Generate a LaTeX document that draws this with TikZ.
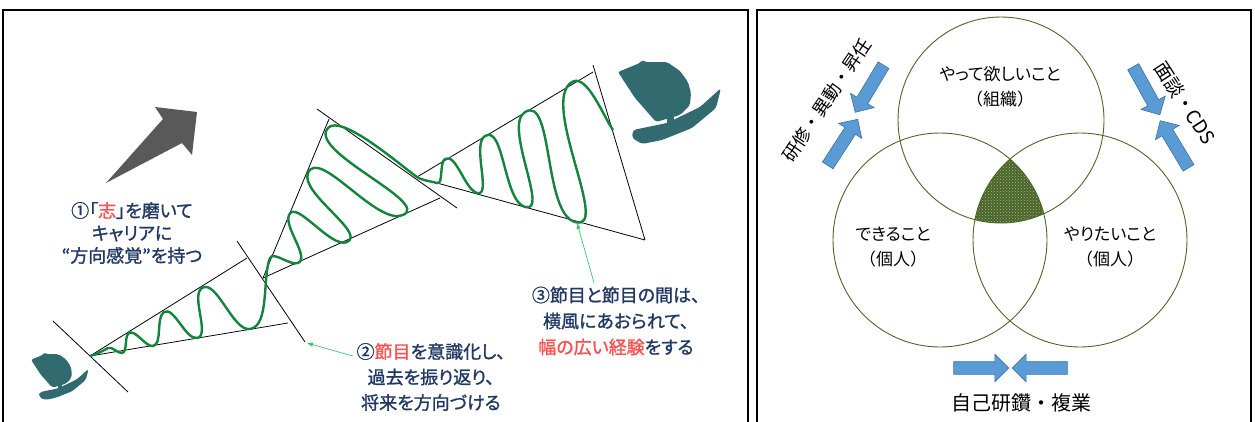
\documentclass[tikz,border=0pt]{standalone}
\usepackage{fontspec}
\newfontfamily\cjk[RawFeature=+palt]{Noto Sans CJK JP}
\newfontfamily\cjkheavy[RawFeature=+palt,FakeBold=1.2]{Noto Sans CJK JP}
\newfontfamily\cjkfw{Noto Sans CJK JP}
\usetikzlibrary{arrows.meta,shapes.arrows,patterns}
\definecolor{navy}{RGB}{32,56,100}
\definecolor{accent}{RGB}{255,80,80}
\definecolor{wavegreen}{RGB}{18,132,60}
\definecolor{pointgreen}{RGB}{60,200,110}
\definecolor{boatteal}{RGB}{49,107,112}
\definecolor{pushgray}{RGB}{89,89,89}
\definecolor{vennline}{RGB}{80,100,40}
\definecolor{coregreen}{RGB}{72,100,40}
\definecolor{coredot}{RGB}{170,190,140}
\definecolor{arrowblue}{RGB}{91,155,213}
\definecolor{arrowedge}{RGB}{65,113,156}
\begin{document}
\begin{tikzpicture}[x=1pt,y=1pt,
    frame/.style={line width=2pt},
    guide/.style={line width=0.8pt},
    wave/.style={draw=wavegreen,line width=2.4pt,looseness=0.7},
    pointer/.style={draw=pointgreen,line width=0.7pt,-{Triangle[length=6pt,width=4pt]}},
    note/.style={align=center,text=navy,font=\cjkheavy\fontsize{18}{25.5}\selectfont},
    vennlbl/.style={align=center,font=\cjk\fontsize{17}{25}\selectfont},
    sidelbl/.style={font=\cjkfw\fontsize{18}{22}\selectfont},
    blockarrow/.style={single arrow,draw=arrowedge,fill=arrowblue,line width=0.6pt,
      minimum height=55pt,inner xsep=0pt,inner ysep=6pt,single arrow head extend=7.5pt}]
  \useasboundingbox (0,0) rectangle (1255,-421);
  \draw[frame] (3,-10) rectangle (748,-440);
  \draw[frame] (757,-10) rectangle (1251,-440);

  % left: three stretches of the career path
  \draw[guide] (53,-321) -- (128,-392);
  \draw[guide] (90,-356) -- (247,-258);
  \draw[guide] (90,-356) -- (288,-323);
  \draw[guide] (237,-241) -- (305,-342);
  \draw[guide] (263,-278) -- (329,-119);
  \draw[guide] (263,-278) -- (440,-198);
  \draw[guide] (317,-109) -- (457,-208);
  \draw[guide] (417,-177) -- (593,-72);
  \draw[guide] (437,-183) -- (645,-240);
  \draw[guide] (593,-65) -- (645,-240);

  \draw[wave] (90,-356) to[out=15,in=212] (108,-348) to[out=32,in=189] (122,-353)
    to[out=9,in=212] (129,-333) to[out=32,in=189] (153,-346)
    to[out=9,in=212] (164,-312) to[out=32,in=189] (197,-338)
    to[out=9,in=212] (202,-288) to[out=32,in=189] (250,-329)
    to[out=9,in=247] (270,-258) to[out=67,in=204] (298,-263)
    to[out=24,in=247] (289,-215) to[out=67,in=204] (347,-242)
    to[out=24,in=247] (308,-173) to[out=67,in=204] (403,-215)
    to[out=24,in=228] (328,-128) to[out=48,in=145,looseness=0.5] (417,-177)
    to[out=-35,in=164] (437,-183) to[out=-16,in=211] (445,-159)
    to[out=31,in=164] (477,-193) to[out=-16,in=211] (485,-136)
    to[out=31,in=164] (525,-207) to[out=-16,in=211] (525,-112)
    to[out=31,in=164] (575,-222) to[out=-16,in=211] (572,-82)
    to[out=31,in=125] (613,-130);

  % boats at both ends
  \foreach \bx/\by/\bs in {618/-60/1, 31/-353/0.56} {
    \begin{scope}[shift={(\bx,\by)},scale=\bs]
      \fill[boatteal,rounded corners=2pt] (0,-12) -- (22,-3) -- (24,0) -- (27,-2) -- (49,-2)
        -- (62,-11) -- (70,-22) -- (73,-33) -- (72,-45) -- (62,-55) -- (38,-62) -- (17,-38) -- cycle;
      \fill[boatteal] (49,-57) rectangle (56,-64);
      \fill[boatteal,rounded corners=3pt] (15,-70) -- (49,-63) -- (82,-47) -- (103,-28) -- (98,-48)
        -- (74,-68) -- (44,-80) -- (24,-84) -- (14,-78) -- cycle;
    \end{scope}
  }
  \fill[pushgray] (106,-183) -- (163,-119) -- (155,-107) -- (197,-112) -- (192,-155) -- (182,-143) -- cycle;

  \node[note,font=\cjkheavy\fontsize{18}{22.5}\selectfont] (aim) at (132,-233)
    {①「{\color{accent}志}」を磨いて\\キャリアに\\“方向感覚”を持つ};
  \node[note] (note2) at (431,-377)
    {②{\color{accent}節目}を意識化し、\\過去を振り返り、\\将来を方向づける};
  \node[note,font=\cjkheavy\fontsize{18}{26}\selectfont] (note3) at (616,-321)
    {③節目と節目の間は、\\横風にあおられて、\\{\color{accent}幅の広い経験}をする};
  \coordinate (knot2) at (307,-343);
  \coordinate (knot3) at (577,-223);
  \draw[pointer] (note2.165) -- (knot2);
  \draw[pointer] (note3.120) -- (knot3);

  % right: three circles, shared part shaded
  \begin{scope}
    \clip (940,-240) circle (107pt);
    \clip (1080,-240) circle (107pt);
    \fill[coregreen,postaction={pattern=crosshatch dots,pattern color=coredot}] (1001,-120) circle (103pt);
  \end{scope}
  \draw[vennline,line width=0.9pt] (1001,-120) circle (103pt);
  \draw[vennline,line width=0.9pt] (940,-240) circle (107pt);
  \draw[vennline,line width=0.9pt] (1080,-240) circle (107pt);

  \node[vennlbl] (org) at (1000,-87) {やって欲しいこと\\{\cjkfw （組織）}};
  \node[vennlbl] (can) at (893,-247) {できること\\{\cjkfw （個人）}};
  \node[vennlbl] (want) at (1110,-247) {やりたいこと\\{\cjkfw （個人）}};

  \node[blockarrow,rotate=239] (pushA) at (871,-86) {};
  \node[blockarrow,rotate=57] (pushB) at (841,-145) {};
  \node[blockarrow,rotate=-61] (pushC) at (1145,-88) {};
  \node[blockarrow,rotate=121] (pushD) at (1176,-147) {};
  \node[blockarrow] (pushE) at (978,-368) {};
  \node[blockarrow,rotate=180] (pushF) at (1043,-368) {};

  \node[sidelbl,rotate=56] (duty) at (827,-100) {研修・異動・昇任};
  \node[sidelbl,font=\cjkfw\fontsize{19}{22}\selectfont,rotate=-57] (talk) at (1185,-103) {面談・CDS};
  \node[sidelbl,font=\cjkfw\fontsize{20}{24}\selectfont] (self) at (1021,-403) {自己研鑽・複業};
\end{tikzpicture}
\end{document}
